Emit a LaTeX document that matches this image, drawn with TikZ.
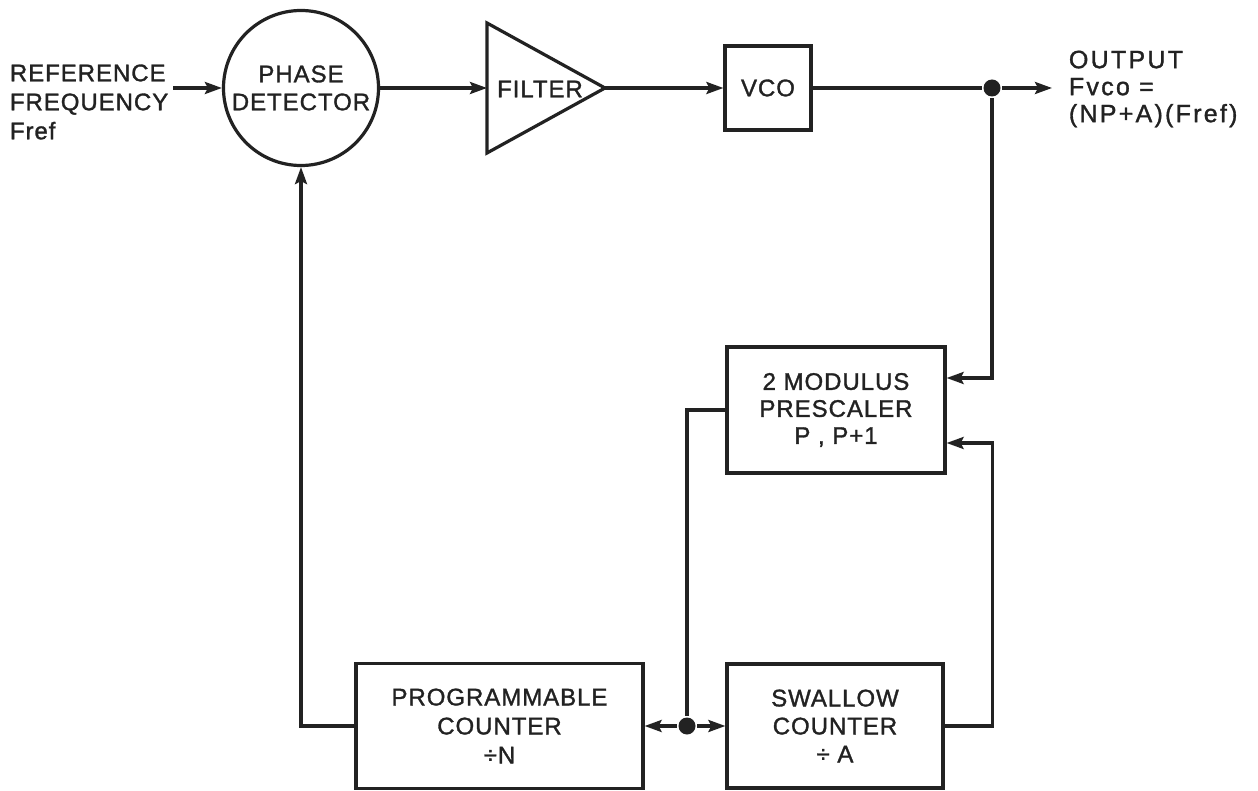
\documentclass[tikz,border=0pt]{standalone}
\usepackage{fontspec}
\setmainfont{Liberation Sans}[FakeBold=1.3, LetterSpace=4]
\newfontfamily\outfont{Liberation Sans}[FakeBold=1.3, LetterSpace=9]
\usetikzlibrary{arrows.meta}
\definecolor{ink}{HTML}{222222}
\begin{document}
\begin{tikzpicture}[x=1pt,y=-1pt, line width=3.2pt, draw=ink,
  every node/.style={text=ink, font=\fontsize{24}{28}\selectfont, align=center},
  box/.style={draw=ink, line width=3.2pt, inner sep=0pt},
  arr/.style={-{Stealth[length=17pt,width=12pt,inset=3pt]}},
  dotn/.style={circle, fill=ink, draw=none, minimum size=17pt, inner sep=0pt}]
\useasboundingbox (0,0) rectangle (1258,791);
\fill[white] (0,0) rectangle (1258,791);

% phase detector
\node[box, circle, minimum size=155pt] (pd) at (301,88) {PHASE\\DETECTOR};
\node[anchor=west, align=left, font=\fontsize{24}{29}\selectfont] (ref) at (5,102) {REFERENCE\\FREQUENCY\\Fref};
\coordinate (refend) at (173,88);
\draw[arr] (refend) -- (pd.west);

% filter
\coordinate (filin) at (487,88);
\coordinate (filout) at (605,88);
\draw[line join=miter] (487,23) -- (filout) -- (487,153) -- cycle;
\node (filter) at (540,89) {FILTER};
\draw[arr] (pd.east) -- (filin);

% VCO
\node[box, minimum width=86pt, minimum height=84pt] (vco) at (768,88) {VCO};
\draw[arr] (filout) -- (vco.west);

% output
\node[dotn] (d1) at (992,88) {};
\coordinate (outend) at (1052,88);
\draw (vco.east) -- (d1);
\draw[arr] (d1) -- (outend);
\node[anchor=west, align=left, font=\outfont\fontsize{25}{27}\selectfont] (out) at (1064,89) {OUTPUT\\Fvco =\\(NP+A)(Fref)};

% prescaler
\node[box, minimum width=218pt, minimum height=126pt, font=\fontsize{24}{27}\selectfont] (pre) at (836,410) {2 MODULUS\\PRESCALER\\P , P+1};
\draw[arr] (d1) |- ([yshift=32pt]pre.east);

% counters
\node[box, minimum width=287pt, minimum height=125pt, font=\fontsize{24}{29}\selectfont] (prog) at (499.5,726) {PROGRAMMABLE\\COUNTER\\÷N};
\node[box, minimum width=216pt, minimum height=124pt, font=\fontsize{24}{28}\selectfont] (swa) at (835,726) {SWALLOW\\COUNTER\\÷ A};
\node[dotn, minimum size=17pt] (d2) at (687,726) {};
\draw[arr] (d2) -- (prog.east);
\draw[arr] (d2) -- (swa.west);
\draw (pre.west) -| (d2);
\draw[arr] (prog.west) -| (pd.south);
\draw[arr] (swa.east) -- ++(48,0) |- ([yshift=-33pt]pre.east);
\end{tikzpicture}
\end{document}
